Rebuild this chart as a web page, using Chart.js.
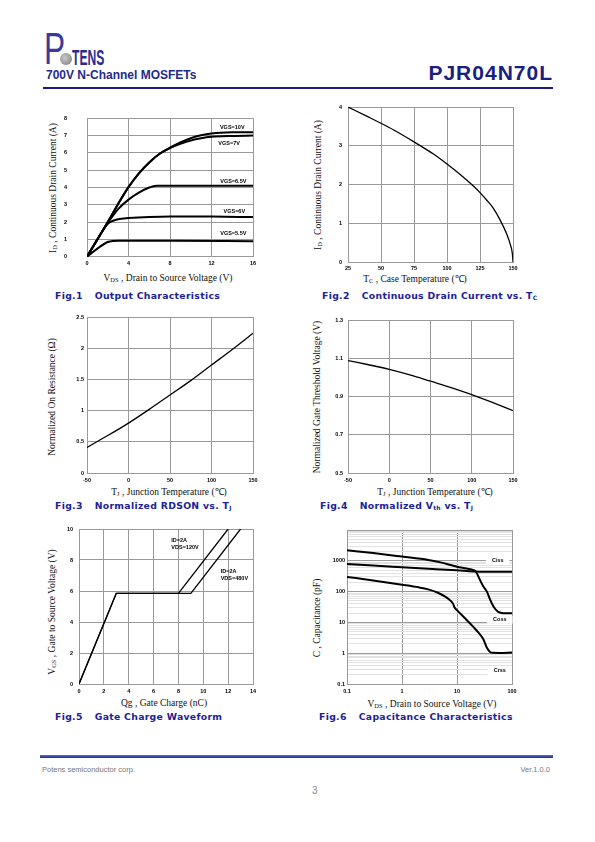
<!DOCTYPE html>
<html>
<head>
<meta charset="utf-8">
<script src="https://cdn.jsdelivr.net/npm/chart.js@4.4.0/dist/chart.umd.min.js"></script>
<style>
  body { margin: 0; background: #fff; }
  #page { position: relative; width: 595px; height: 842px; overflow: hidden; font-family: "Liberation Sans", Arial, sans-serif; }
  canvas { position: absolute; }
  .ab { position: absolute; white-space: nowrap; }
  .ttl { position: absolute; white-space: nowrap; font-family: "Liberation Serif", "Times New Roman", serif; font-size: 9.5px; color: #111; transform: translate(-50%, -50%); }
  .ttl.v { transform: translate(-50%, -50%) rotate(-90deg); }
  .ttl sub { font-size: 6.5px; vertical-align: -1px; }
  .cap { position: absolute; white-space: nowrap; font-family: "DejaVu Sans", sans-serif; font-weight: bold; font-size: 9.3px; letter-spacing: 0.3px; color: #1c2296; transform: translateY(-50%); }
  .cap .ct { margin-left: 12px; }
  .cap sub { font-size: 6px; vertical-align: -1px; }
</style>
</head>
<body>
<div id="page">
  <!-- header -->
  <div class="ab" style="left:44px;top:24px;font-size:44px;color:#3a3a9c;transform:scaleX(0.72);transform-origin:left top;">P</div>
  <div class="ab" style="left:60px;top:53px;width:12px;height:12px;border-radius:50%;background:radial-gradient(circle at 40% 40%, #c8c8c8, #7a7a7a);"></div>
  <div class="ab" style="left:72px;top:45px;font-size:22px;font-weight:bold;color:#2b2b8c;transform:scaleX(0.55);transform-origin:left top;">TENS</div>
  <div class="ab" style="left:46px;top:68px;font-size:12px;font-weight:bold;color:#1e2a8a;">700V N-Channel MOSFETs</div>
  <div class="ab" style="right:42px;top:61px;font-size:21px;font-weight:900;color:#1a2080;letter-spacing:1px;">PJR04N70L</div>
  <div class="ab" style="left:43px;top:87px;width:510px;height:2px;background:#1a1a80;"></div>

  <!-- axis titles -->
  <div class="ttl" style="left:168px;top:278px;">V<sub>DS</sub> , Drain to Source Voltage (V)</div>
  <div class="ttl v" style="left:53px;top:188px;">I<sub>D</sub> , Continuous Drain Current (A)</div>
  <div class="ttl" style="left:415px;top:278px;">T<sub>C</sub> , Case Temperature (℃)</div>
  <div class="ttl v" style="left:318px;top:185px;">I<sub>D</sub> , Continuous Drain Current (A)</div>
  <div class="ttl" style="left:169px;top:491px;">T<sub>J</sub> , Junction Temperature (℃)</div>
  <div class="ttl v" style="left:52px;top:397px;">Normalized On Resistance (Ω)</div>
  <div class="ttl" style="left:435px;top:491px;">T<sub>J</sub> , Junction Temperature (℃)</div>
  <div class="ttl v" style="left:317px;top:397px;">Normalized Gate Threshold Voltage (V)</div>
  <div class="ttl" style="left:164px;top:703px;">Qg , Gate Charge (nC)</div>
  <div class="ttl v" style="left:52px;top:612px;">V<sub>GS</sub> , Gate to Source Voltage (V)</div>
  <div class="ttl" style="left:432px;top:704px;">V<sub>DS</sub> , Drain to Source Voltage (V)</div>
  <div class="ttl v" style="left:317px;top:618px;">C , Capacitance (pF)</div>

  <!-- captions -->
  <div class="cap" style="left:55px;top:295px;">Fig.1<span class="ct">Output Characteristics</span></div>
  <div class="cap" style="left:322px;top:295px;">Fig.2<span class="ct">Continuous Drain Current vs. T<sub>C</sub></span></div>
  <div class="cap" style="left:55px;top:505px;">Fig.3<span class="ct">Normalized RDSON vs. T<sub>J</sub></span></div>
  <div class="cap" style="left:320px;top:505px;">Fig.4<span class="ct">Normalized V<sub>th</sub> vs. T<sub>J</sub></span></div>
  <div class="cap" style="left:55px;top:716px;">Fig.5<span class="ct">Gate Charge Waveform</span></div>
  <div class="cap" style="left:319px;top:716px;">Fig.6<span class="ct">Capacitance Characteristics</span></div>

  <!-- footer -->
  <div class="ab" style="left:40px;top:755px;width:513px;height:3px;background:linear-gradient(#6070c0,#1a2a90);"></div>
  <div class="ab" style="left:42px;top:765px;font-size:7.5px;color:#777;">Potens semiconductor corp.</div>
  <div class="ab" style="right:45px;top:765px;font-size:7.5px;color:#777;">Ver.1.0.0</div>
  <div class="ab" style="left:312px;top:785px;font-size:10px;color:#888;">3</div>

  <canvas id="fig1"></canvas>
  <canvas id="fig2"></canvas>
  <canvas id="fig3"></canvas>
  <canvas id="fig4"></canvas>
  <canvas id="fig5"></canvas>
  <canvas id="fig6"></canvas>
</div>

<script>
// ---- Fig.1 output characteristics
var vds10 = [0, 1, 2, 3, 4, 5, 6, 7, 8, 9, 10, 11, 12, 14, 16];
var id10  = [0, 1.0, 2.0, 3.05, 4.02, 4.82, 5.45, 5.95, 6.3, 6.6, 6.85, 7.02, 7.12, 7.19, 7.2];
var vds7  = [0, 1, 2, 3, 4, 5, 6, 7, 8, 9, 10, 11, 12, 14, 16];
var id7   = [0, 1.0, 2.0, 3.05, 4.02, 4.82, 5.45, 5.95, 6.28, 6.52, 6.72, 6.85, 6.93, 6.98, 7.0];
var vds65 = [0, 1, 2, 3, 4, 5, 6, 6.7, 8, 12, 16];
var id65  = [0, 1.0, 1.95, 2.75, 3.3, 3.7, 4.0, 4.1, 4.1, 4.1, 4.1];
var vds6  = [0, 1, 2, 2.5, 3, 4, 6, 8, 12, 16];
var id6   = [0, 1.0, 1.9, 2.08, 2.17, 2.23, 2.3, 2.33, 2.32, 2.29];
var vds55 = [0, 1, 2, 2.5, 3, 8, 16];
var id55  = [0, 0.47, 0.85, 0.91, 0.92, 0.92, 0.9];
var fig1XTicks = [0, 4, 8, 12, 16];
var fig1YTicks = [0, 1, 2, 3, 4, 5, 6, 7, 8];
var fig1Labels = ['VGS=10V', 'VGS=7V', 'VGS=6.5V', 'VGS=6V', 'VGS=5.5V'];
var fig1LabelAt = [[14.0, 7.45], [13.7, 6.57], [14.1, 4.37], [14.2, 2.64], [14.1, 1.36]];

// ---- Fig.2 drain current vs case temperature
var tCase = [25, 40, 50, 60, 75, 90, 100, 110, 120, 125, 130, 135, 140, 145, 148, 149.5, 150];
var idCase = [4.0, 3.75, 3.58, 3.4, 3.1, 2.78, 2.53, 2.26, 1.96, 1.79, 1.6, 1.39, 1.1, 0.74, 0.45, 0.22, 0];
var fig2XTicks = [25, 50, 75, 100, 125, 150];
var fig2YTicks = [0, 1, 2, 3, 4];

// ---- Fig.3 normalized RDSON
var tj = [-50, -25, 0, 25, 50, 75, 100, 125, 150];
var rdsNorm = [0.41, 0.6, 0.8, 1.02, 1.25, 1.48, 1.73, 1.98, 2.24];
var fig3YTicks = [0, 0.5, 1, 1.5, 2, 2.5];
var tjTicks = [-50, 0, 50, 100, 150];

// ---- Fig.4 normalized Vth
var vthNorm = [1.088, 1.066, 1.042, 1.013, 0.98, 0.947, 0.91, 0.869, 0.826];
var fig4YTicks = [0.5, 0.7, 0.9, 1.1, 1.3];

// ---- Fig.5 gate charge
var qg120 = [0, 3, 8, 12];
var vgs120 = [0, 5.85, 5.85, 10];
var qg480 = [0, 3, 9, 13];
var vgs480 = [0, 5.85, 5.85, 10];
var fig5XTicks = [0, 2, 4, 6, 8, 10, 12, 14];
var fig5YTicks = [0, 2, 4, 6, 8, 10];
var fig5Labels = ['ID=2A', 'VDS=120V', 'ID=2A', 'VDS=480V'];
var fig5LabelAt = [[7.43, 9.25], [7.43, 8.8], [11.4, 7.25], [11.4, 6.82]];

// ---- Fig.6 capacitance
var vdsCoss = [0.1, 0.3, 1, 3, 5, 10, 15, 20, 22, 26, 30, 35, 40, 46, 56, 70, 100];
var coss    = [2200, 1780, 1370, 1070, 890, 645, 560, 500, 450, 245, 148, 100, 55, 33, 22, 20, 20];
var vdsCiss = [0.1, 0.3, 1, 3, 10, 20, 30, 100];
var ciss    = [790, 700, 620, 555, 490, 450, 440, 440];
var vdsCrss = [0.1, 0.3, 1, 2, 3, 4.5, 6, 7.5, 8.5, 9, 10, 15, 20, 25, 30, 35, 40, 45, 60, 100];
var crss    = [300, 230, 168, 138, 118, 92, 70, 52, 40, 31, 25, 12, 7, 4.5, 2.9, 1.5, 1.1, 1.03, 1.02, 1.06];
var fig6XTicks = [0.1, 1, 10, 100];
var capDecades = [0.1, 1, 10, 100, 1000];
var capTop = 10000;
var fig6Labels = ['Ciss', 'Coss', 'Crss'];
var fig6LabelAt = [[55, 990], [60, 12.3], [60, 0.265]];

// ---------------------------------------------------------------
var tickFont = { family: 'Liberation Sans', size: 5.5, weight: 'bold' };
var gridColor = '#999';
var PADL = 40, PADT = 10, PADR = 12, PADB = 18;

function pts(xs, ys) {
  return xs.map(function(x, i) { return { x: x, y: ys[i] }; });
}

function curve(xs, ys, w, smooth) {
  return {
    data: pts(xs, ys),
    borderColor: '#000',
    borderWidth: w,
    pointRadius: 0,
    fill: false,
    tension: 0,
    cubicInterpolationMode: smooth ? 'monotone' : 'default'
  };
}

function axis(type, min, max, ticks, pad, isY, fmt) {
  return {
    type: type,
    min: min,
    max: max,
    afterBuildTicks: function(s) { s.ticks = ticks.map(function(v) { return { value: v }; }); },
    afterFit: function(s) { if (isY) s.width = PADL; else s.height = PADB; },
    ticks: {
      font: tickFont, color: '#000', padding: pad, autoSkip: false, maxRotation: 0,
      callback: function(v, i, tk) { return fmt ? fmt(tk[i].value) : String(tk[i].value); }
    },
    grid: { color: gridColor, lineWidth: 1, drawTicks: false },
    border: { color: gridColor }
  };
}

function notes(texts, at, align, bg) {
  return {
    id: 'notes',
    afterDraw: function(chart) {
      var c = chart.ctx;
      c.save();
      c.font = 'bold 5.5px "Liberation Sans"';
      c.textBaseline = 'middle';
      c.textAlign = align;
      texts.forEach(function(t, i) {
        var px = chart.scales.x.getPixelForValue(at[i][0]);
        var py = chart.scales.y.getPixelForValue(at[i][1]);
        if (bg) {
          var w = c.measureText(t).width;
          c.fillStyle = '#fff';
          c.fillRect(px - w / 2 - 6, py - 4, w + 12, 8);
        }
        c.fillStyle = '#000';
        c.fillText(t, px, py);
      });
      c.restore();
    }
  };
}

function make(id, box, datasets, xs, ys, plugins) {
  var cv = document.getElementById(id);
  cv.width = box[2] - box[0] + PADL + PADR;
  cv.height = box[3] - box[1] + PADT + PADB;
  cv.style.left = (box[0] - PADL) + 'px';
  cv.style.top = (box[1] - PADT) + 'px';
  new Chart(cv.getContext('2d'), {
    type: 'line',
    data: { datasets: datasets },
    options: {
      responsive: false,
      animation: false,
      devicePixelRatio: 1,
      layout: { padding: { top: PADT, right: PADR, left: 0, bottom: 0 } },
      plugins: { legend: { display: false }, tooltip: { enabled: false } },
      scales: { x: xs, y: ys }
    },
    plugins: plugins || []
  });
}

function oneDec(v) { return v.toFixed(1); }
function capFmt(v) { return capDecades.indexOf(v) >= 0 ? String(v) : ''; }

// Fig.1
make('fig1', [87, 105, 253, 262], [
  curve(vds10, id10, 2, true),
  curve(vds7, id7, 2, true),
  curve(vds65, id65, 2, true),
  curve(vds6, id6, 2, true),
  curve(vds55, id55, 2, true)
], axis('linear', 0, 16, fig1XTicks, 3, false), axis('linear', 0, 8, fig1YTicks, 20, true),
  [notes(fig1Labels, fig1LabelAt, 'center', false)]);

// Fig.2
make('fig2', [348, 107, 513, 262], [curve(tCase, idCase, 1.3, true)],
  axis('linear', 25, 150, fig2XTicks, 3, false), axis('linear', 0, 4, fig2YTicks, 6, true));

// Fig.3
make('fig3', [87, 317, 253, 473], [curve(tj, rdsNorm, 1.3, true)],
  axis('linear', -50, 150, tjTicks, 4, false), axis('linear', 0, 2.5, fig3YTicks, 3, true));

// Fig.4
make('fig4', [348, 320, 513, 473], [curve(tj, vthNorm, 1.3, true)],
  axis('linear', -50, 150, tjTicks, 4, false), axis('linear', 0.5, 1.3, fig4YTicks, 5, true, oneDec));

// Fig.5
make('fig5', [79, 529, 253, 684], [curve(qg120, vgs120, 1.3, false), curve(qg480, vgs480, 1.3, false)],
  axis('linear', 0, 14, fig5XTicks, 4, false), axis('linear', 0, 10, fig5YTicks, 6, true),
  [notes(fig5Labels, fig5LabelAt, 'left', false)]);

// Fig.6
var capGrid = [];
capDecades.forEach(function(d) {
  for (var m = 1; m <= 9; m++) capGrid.push(+(m * d).toPrecision(3));
});
capGrid.push(capTop);
var capY = axis('logarithmic', 0.1, capTop, capGrid, 2, true, capFmt);
capY.grid.color = function(ctx) {
  var v = ctx.tick ? ctx.tick.value : 1;
  var l = Math.log10(v);
  return Math.abs(l - Math.round(l)) < 1e-6 ? '#999' : '#e2e2e2';
};
make('fig6', [347, 530, 512, 684], [
  curve(vdsCoss, coss, 2, true),
  curve(vdsCiss, ciss, 2, true),
  curve(vdsCrss, crss, 2, true)
], axis('logarithmic', 0.1, 100, fig6XTicks, 4, false), capY,
  [notes(fig6Labels, fig6LabelAt, 'center', true)]);
</script>
</body>
</html>
